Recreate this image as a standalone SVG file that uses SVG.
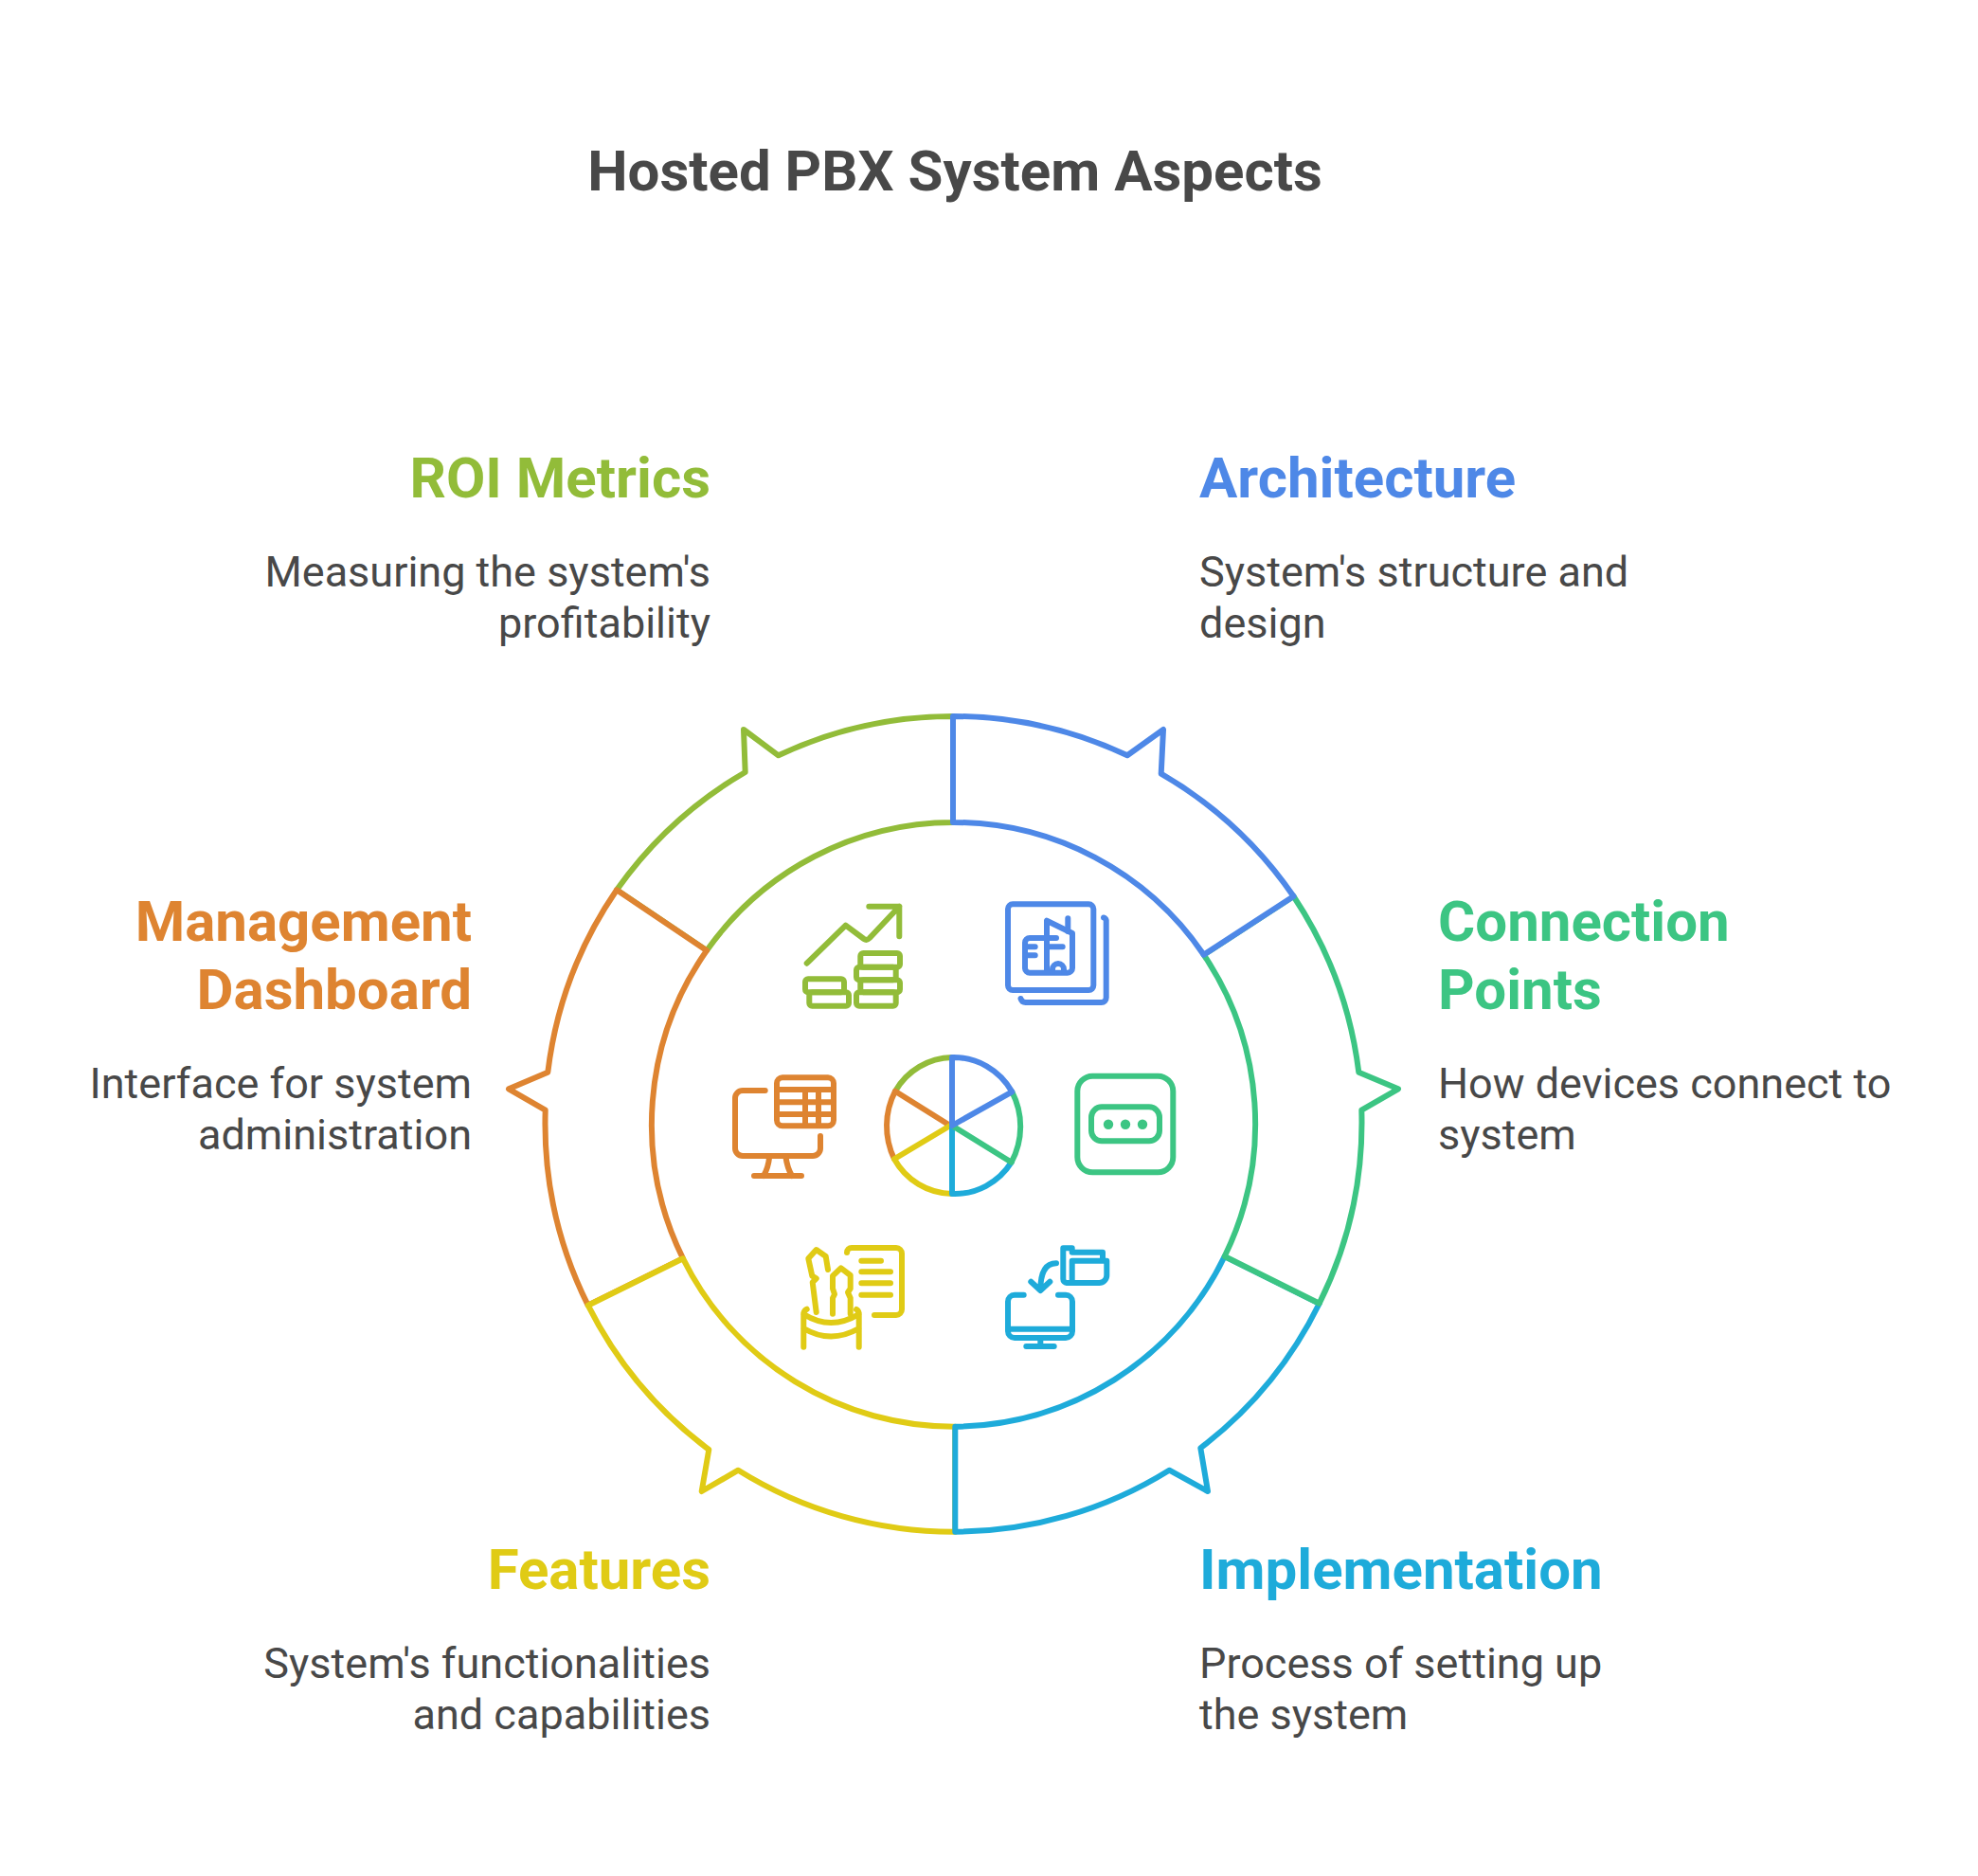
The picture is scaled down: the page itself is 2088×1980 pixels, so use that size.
<svg xmlns="http://www.w3.org/2000/svg" width="2088" height="1980" viewBox="0 0 2088 1980">
<style>
.s{fill:none;stroke-width:6;stroke-linejoin:round;stroke-linecap:round}
.seg{fill:#fff;stroke-width:6}
.blue{stroke:#4e88e7}.green{stroke:#3cc583}.cyan{stroke:#1eabda}.yellow{stroke:#e0cb15}.orange{stroke:#de8431}.lime{stroke:#92bc39}
text{font-family:Roboto,"Liberation Sans",sans-serif}
.title{font-size:60px;font-weight:700;fill:#484848}
.h{font-size:60px;font-weight:700}
.b{font-size:45px;font-weight:400;fill:#484848}
.e{text-anchor:end}
</style>
<rect width="2088" height="1980" fill="#fff"/>
<text id="title" class="title" x="1008" y="200.7" text-anchor="middle">Hosted PBX System Aspects</text>
<g id="connectors">
<path class="s seg lime" d="M651,939.3 A431,431 0 0 1 786.7,815 L785,770 L821.7,797.3 A431,431 0 0 1 1006,756 V868 A319,319 0 0 0 746,1003.3 Z"/>
<path class="s seg orange" d="M620.7,1377.7 A431,431 0 0 1 575.7,1171.7 L537,1149.3 L578.3,1131.7 A431,431 0 0 1 651,939.3 L746,1003.3 A319,319 0 0 0 721,1328.3 Z"/>
<path class="s seg yellow" d="M1008.3,1616.7 A431,431 0 0 1 779.3,1551.7 L740.7,1574 L748.3,1530 A431,431 0 0 1 620.7,1377.7 L721,1328.3 A319,319 0 0 0 1008.3,1505.7 Z"/>
<path class="s seg cyan" d="M1392.7,1375.7 A431,431 0 0 1 1267.3,1528.3 L1275,1574 L1234.3,1551.7 A431,431 0 0 1 1008.3,1616.7 V1505.7 A319,319 0 0 0 1292.7,1326 Z"/>
<path class="s seg green" d="M1365.5,946 A431,431 0 0 1 1434.3,1131.7 L1476,1149.3 L1437.3,1171.7 A431,431 0 0 1 1392.7,1375.7 L1292.7,1326 A319,319 0 0 0 1270.7,1007.7 Z"/>
<path class="s seg blue" d="M1006,756 A431,431 0 0 1 1190,797.3 L1228,770 L1225.7,816.7 A431,431 0 0 1 1365.5,946 L1270.7,1007.7 A319,319 0 0 0 1006,868 Z"/>
</g>
<g id="hub">
<path class="s lime" d="M945,1151.7 A71,72 0 0 1 1005,1116"/>
<path class="s orange" d="M1003,1188 L945,1151.7 A80,80 0 0 0 944,1223.3"/>
<path class="s yellow" d="M1003,1188 L944,1223.3 A71,72 0 0 0 1005,1260"/>
<path class="s cyan" d="M1005,1188 V1260 A71,72 0 0 0 1067.7,1226.7"/>
<path class="s green" d="M1005,1188 L1067.7,1226.7 A80,80 0 0 0 1068.3,1152.3"/>
<path class="s blue" d="M1005,1188 V1116 A71,72 0 0 1 1068.3,1152.3 Z"/>
</g>
<g id="node-architecture">
<g class="s blue">
<rect x="1064" y="954.3" width="90.3" height="90.7" rx="5"/>
<path d="M1165,968.5 a3.5 3.5 0 0 1 2.7 4 V1053 a5 5 0 0 1 -5 5 H1083 a5.5 5.5 0 0 1 -5.5 -4"/>
<path d="M1115,990 H1087 a5 5 0 0 0 -5 5 V1022 a5 5 0 0 0 5 4.7 H1127 a5 5 0 0 0 5 -5 V985 L1105,971.7 V1026.7"/>
<path d="M1082,999.3 H1092.7 M1082,1008.3 H1092.7 M1105,999.3 H1121.7 M1127.3,969.3 V983"/>
<path d="M1111,1026 V1023 a6 6 0 0 1 6 -6 a6 6 0 0 1 6 6 V1026"/>
</g>
<text class="h" x="1266" y="525" fill="#4e88e7">Architecture</text>
<text class="b" x="1266" y="618.5">System's structure and</text>
<text class="b" x="1266" y="672.5">design</text>
</g>
<g id="node-connection">
<g class="s green">
<rect x="1137.3" y="1135.7" width="101" height="101.6" rx="16"/>
<rect x="1152" y="1168.3" width="72" height="36" rx="11"/>
</g>
<circle cx="1170" cy="1186.7" r="5.2" fill="#3cc583"/><circle cx="1188" cy="1186.7" r="5.2" fill="#3cc583"/><circle cx="1206" cy="1186.7" r="5.2" fill="#3cc583"/>
<text class="h" x="1518" y="993" fill="#3cc583">Connection</text>
<text class="h" x="1518" y="1065" fill="#3cc583">Points</text>
<text class="b" x="1518" y="1158.5">How devices connect to</text>
<text class="b" x="1518" y="1212.5">system</text>
</g>
<g id="node-implementation">
<g class="s cyan">
<path d="M1080.7,1366.7 H1071 a7 7 0 0 0 -7 7 V1405 a7 7 0 0 0 7 7 H1125 a7 7 0 0 0 7 -7 V1373.7 a7 7 0 0 0 -7 -7 H1117"/>
<path d="M1064,1402.7 H1132 M1098.3,1412 V1421 M1083.3,1421 H1112.7"/>
<path d="M1115,1333.3 C1104,1333.3 1098.3,1342 1098.3,1361.7 M1088.3,1352.7 L1098.3,1362 L1108.3,1352.7"/>
<path d="M1127,1354 h-1 a4 4 0 0 1 -3.7 -4 V1317.3 H1131.7 V1321.7 H1164 V1330.7 M1131.7,1354 V1330.7 H1168.3 V1346 a8 8 0 0 1 -8 8 H1127"/>
</g>
<text class="h" x="1266" y="1677" fill="#1eabda">Implementation</text>
<text class="b" x="1266" y="1770.5">Process of setting up</text>
<text class="b" x="1266" y="1824.5">the system</text>
</g>
<g id="node-features">
<g class="s yellow">
<path d="M894,1322 a5 5 0 0 1 5 -5 H946 a6 6 0 0 1 6 6 V1382 a6 6 0 0 1 -6 6 H923"/>
<path d="M909.3,1330.7 H930 M909.3,1342.3 H940 M909.3,1354.3 H940 M909.3,1366.7 H940"/>
<path d="M848.3,1421.7 V1386 Q849,1383 851.7,1381.7 M906.7,1421.7 V1386 Q906,1383 904,1382 M848.3,1387 Q877,1405 906.7,1387 M848.3,1402 Q877,1419 906.7,1402"/>
<path d="M861.7,1385 L857.7,1353.3 L861.7,1349.3 L857.3,1346.7 L853.3,1328.3 L861.7,1319 L871.7,1326 L874,1340"/>
<path d="M879,1386.7 V1370 L881,1366 L879,1360 V1346.7 L887.7,1338.3 L897.7,1346 V1360 L895,1364 L897.7,1370 V1386.7"/>
</g>
<text class="h e" x="750" y="1677" fill="#e0cb15">Features</text>
<text class="b e" x="750" y="1770.5">System's functionalities</text>
<text class="b e" x="750" y="1824.5">and capabilities</text>
</g>
<g id="node-dashboard">
<g class="s orange">
<rect x="820" y="1137.3" width="60" height="51" rx="6"/>
<path d="M820,1150 H880 M820,1163.3 H880 M820,1176 H880 M850,1150 V1188 M864,1150 V1188"/>
<path d="M807.7,1151 H784 a8 8 0 0 0 -8 8 V1212 a8 8 0 0 0 8 8 H858 a8 8 0 0 0 8 -8 V1199"/>
<path d="M812.3,1220 Q811,1233 806,1241 M829.3,1220 Q831,1233 836,1241 M796,1241 H846"/>
</g>
<text class="h e" x="498" y="993" fill="#de8431">Management</text>
<text class="h e" x="498" y="1065" fill="#de8431">Dashboard</text>
<text class="b e" x="498" y="1158.5">Interface for system</text>
<text class="b e" x="498" y="1212.5">administration</text>
</g>
<g id="node-roi">
<g class="s lime">
<path d="M851.7,1016.7 L892.7,976.7 L912,991 Q915,993 918,990 L949.3,956.7 M917.3,956.7 H949.3 V988.3"/>
<rect x="908.3" y="1006" width="41.7" height="14.7" rx="3"/>
<rect x="904" y="1020.7" width="41.7" height="13.6" rx="3"/>
<rect x="908.3" y="1034.3" width="41.7" height="13" rx="3"/>
<rect x="904" y="1047.3" width="41.7" height="14.4" rx="3"/>
<rect x="850" y="1033.3" width="41" height="14" rx="3"/>
<rect x="854.3" y="1047.3" width="41.7" height="14.4" rx="3"/>
</g>
<text class="h e" x="750" y="525" fill="#92bc39">ROI Metrics</text>
<text class="b e" x="750" y="618.5">Measuring the system's</text>
<text class="b e" x="750" y="672.5">profitability</text>
</g>
</svg>
